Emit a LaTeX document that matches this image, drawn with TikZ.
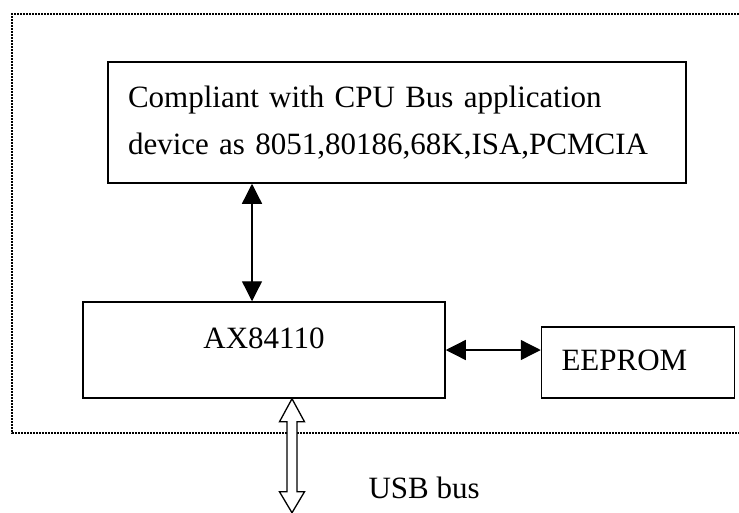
\documentclass[tikz,border=0pt]{standalone}
\usepackage{fontspec}
\setmainfont{Liberation Serif}
\usepackage{tikz}
\usetikzlibrary{arrows.meta}
\usetikzlibrary{calc,positioning}

\begin{document}
\begin{tikzpicture}[x=1pt, y=-1pt,
    block/.style={rectangle, draw=black, line width=1.5pt, inner sep=0pt,
    text=black, font=\fontsize{31}{47}\selectfont},
    link/.style={>={Triangle[length=20pt, width=20pt]}, <->, line width=1.3pt},
    busarrow/.style={draw=black, fill=white, line width=1.3pt, line join=miter},
    frame/.style={line width=1.6pt, dash pattern=on 1.6pt off 1.4pt}]
    \useasboundingbox (0,0) rectangle (739,512);
    \draw[frame] (739,14) -- (12,14) -- (12,433) -- (739,433);

    \node (cpu) [block, minimum width=578pt, minimum height=121pt, text width=538pt, align=left] at (397,122.5)
    {
        Compliant with CPU Bus application\\
        device as 8051,80186,68K,ISA,PCMCIA
    };

    \node (ax) [block, minimum width=362pt, minimum height=96pt, text height=21pt, text depth=25pt] at (264,350) {AX84110};

    \node (eeprom) [block, minimum width=193pt, minimum height=71pt, text width=153pt, align=left,
    text height=21pt, text depth=6pt, right=95pt of ax.south east, anchor=south west] {EEPROM};

    \draw [link] ([xshift=-12pt]ax.north |- cpu.south) -- ([xshift=-12pt]ax.north);
    \draw [link] (ax.east) -- (ax.east -| eeprom.west);

    \coordinate (usbtop) at ([xshift=28pt]ax.south);
    \draw [busarrow] (usbtop) -- ++(12.5,23) -- ++(-7.5,0) -- ++(0,70) -- ++(7.5,0) -- ++(-12.5,21)
    -- ++(-12.5,-21) -- ++(7.5,0) -- ++(0,-70) -- ++(-7.5,0) -- cycle;

    \node (usb) [anchor=base west, text=black, font=\fontsize{31}{37}\selectfont] at (365,498) {USB bus};
\end{tikzpicture}
\end{document}
